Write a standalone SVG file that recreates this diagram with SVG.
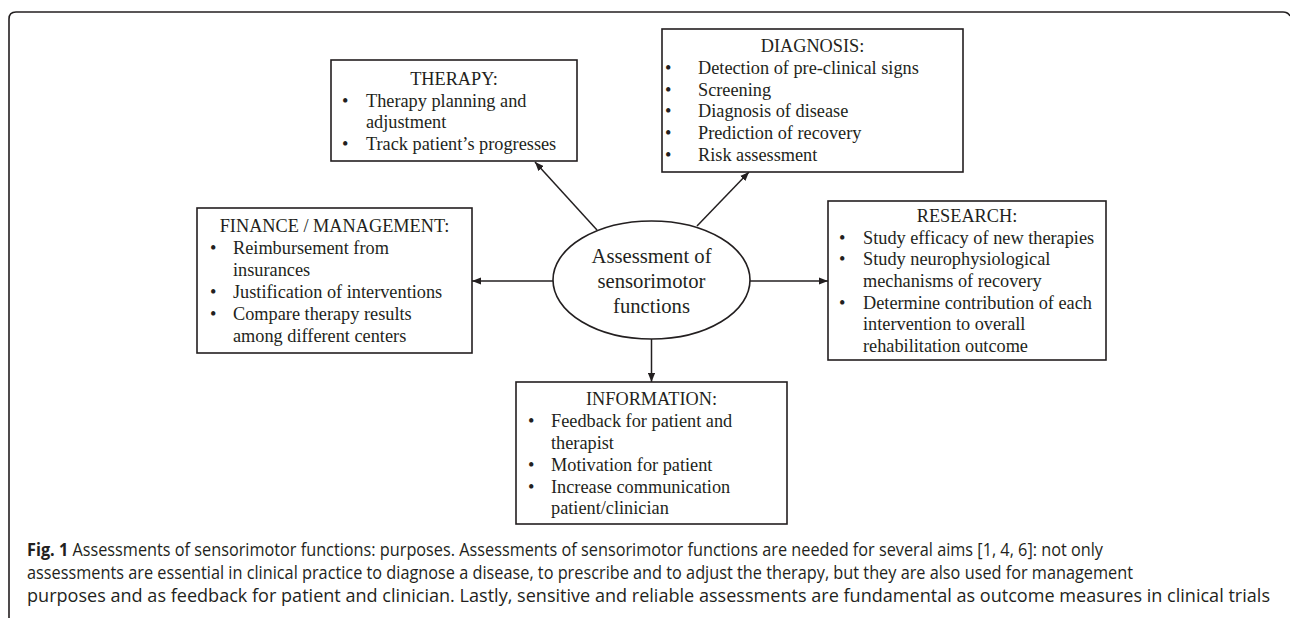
<svg xmlns="http://www.w3.org/2000/svg" width="1290" height="618" viewBox="0 0 1290 618">
<style>
.box{fill:#fff;stroke:#231f20;stroke-width:1.6}
.t{font-family:"Liberation Serif","Times New Roman",serif;font-size:18.3px;fill:#231f20}
.c{text-anchor:middle}
.e{font-family:"Liberation Serif","Times New Roman",serif;font-size:20.7px;fill:#231f20;text-anchor:middle}
.cap{font-family:"Open Sans","Noto Sans",sans-serif;font-size:17.3px;fill:#231f20}
.ln{stroke:#231f20;stroke-width:1.5;fill:none;marker-end:url(#ah)}
</style>
<defs>
<marker id="ah" viewBox="0 0 10 8" refX="10" refY="4" markerWidth="6" markerHeight="5" markerUnits="strokeWidth" orient="auto">
<path d="M0,0 L10,4 L0,8 z" fill="#231f20"/>
</marker>
</defs>
<rect width="1290" height="618" fill="#fff"/>
<path d="M9,618 V19 Q9,12 16,12 H1283 Q1288,12 1290,16" fill="none" stroke="#231f20" stroke-width="1.6"/>

<g id="connectors">
<line class="ln" x1="597" y1="230" x2="535" y2="162"/>
<line class="ln" x1="697" y1="226" x2="749" y2="172"/>
<line class="ln" x1="553" y1="281" x2="472" y2="281"/>
<line class="ln" x1="750" y1="281" x2="828" y2="281"/>
<line class="ln" x1="651.5" y1="339" x2="651.5" y2="382"/>
</g>

<g id="center">
<ellipse cx="651.5" cy="280" rx="98.5" ry="59" class="box"/>
<text class="e" x="651.5" y="263">Assessment of</text>
<text class="e" x="651.5" y="288">sensorimotor</text>
<text class="e" x="651.5" y="313">functions</text>
</g>

<g id="therapy">
<rect class="box" x="331" y="60" width="246" height="101"/>
<text class="t c" x="454" y="85">THERAPY:</text>
<text class="t" x="342" y="107">•</text><text class="t" x="366" y="107">Therapy planning and</text>
<text class="t" x="366" y="128">adjustment</text>
<text class="t" x="342" y="150">•</text><text class="t" x="366" y="150">Track patient’s progresses</text>
</g>

<g id="diagnosis">
<rect class="box" x="662" y="29" width="301" height="143"/>
<text class="t c" x="812.5" y="52">DIAGNOSIS:</text>
<text class="t" x="665" y="74">•</text><text class="t" x="698" y="74">Detection of pre-clinical signs</text>
<text class="t" x="665" y="95.5">•</text><text class="t" x="698" y="95.5">Screening</text>
<text class="t" x="665" y="117">•</text><text class="t" x="698" y="117">Diagnosis of disease</text>
<text class="t" x="665" y="139">•</text><text class="t" x="698" y="139">Prediction of recovery</text>
<text class="t" x="665" y="161">•</text><text class="t" x="698" y="161">Risk assessment</text>
</g>

<g id="finance">
<rect class="box" x="197" y="208" width="275" height="145"/>
<text class="t c" x="334.5" y="232">FINANCE / MANAGEMENT:</text>
<text class="t" x="210" y="254">•</text><text class="t" x="233" y="254">Reimbursement from</text>
<text class="t" x="233" y="276">insurances</text>
<text class="t" x="210" y="298">•</text><text class="t" x="233" y="298">Justification of interventions</text>
<text class="t" x="210" y="320">•</text><text class="t" x="233" y="320">Compare therapy results</text>
<text class="t" x="233" y="342">among different centers</text>
</g>

<g id="research">
<rect class="box" x="828" y="201" width="278" height="159"/>
<text class="t c" x="967" y="222">RESEARCH:</text>
<text class="t" x="839" y="243.5">•</text><text class="t" x="863" y="243.5">Study efficacy of new therapies</text>
<text class="t" x="839" y="265">•</text><text class="t" x="863" y="265">Study neurophysiological</text>
<text class="t" x="863" y="287">mechanisms of recovery</text>
<text class="t" x="839" y="308.5">•</text><text class="t" x="863" y="308.5">Determine contribution of each</text>
<text class="t" x="863" y="330">intervention to overall</text>
<text class="t" x="863" y="352">rehabilitation outcome</text>
</g>

<g id="information">
<rect class="box" x="516" y="382" width="271" height="142"/>
<text class="t c" x="651.5" y="405">INFORMATION:</text>
<text class="t" x="528" y="427">•</text><text class="t" x="551" y="427">Feedback for patient and</text>
<text class="t" x="551" y="448.5">therapist</text>
<text class="t" x="528" y="470.5">•</text><text class="t" x="551" y="470.5">Motivation for patient</text>
<text class="t" x="528" y="492.5">•</text><text class="t" x="551" y="492.5">Increase communication</text>
<text class="t" x="551" y="514">patient/clinician</text>
</g>

<g id="caption">
<text class="cap" x="27" y="556" textLength="1076" lengthAdjust="spacingAndGlyphs"><tspan font-weight="bold">Fig. 1</tspan> Assessments of sensorimotor functions: purposes. Assessments of sensorimotor functions are needed for several aims [1, 4, 6]: not only</text>
<text class="cap" x="27" y="579" textLength="1106" lengthAdjust="spacingAndGlyphs">assessments are essential in clinical practice to diagnose a disease, to prescribe and to adjust the therapy, but they are also used for management</text>
<text class="cap" x="27" y="602" textLength="1243" lengthAdjust="spacingAndGlyphs">purposes and as feedback for patient and clinician. Lastly, sensitive and reliable assessments are fundamental as outcome measures in clinical trials</text>
</g>
</svg>
